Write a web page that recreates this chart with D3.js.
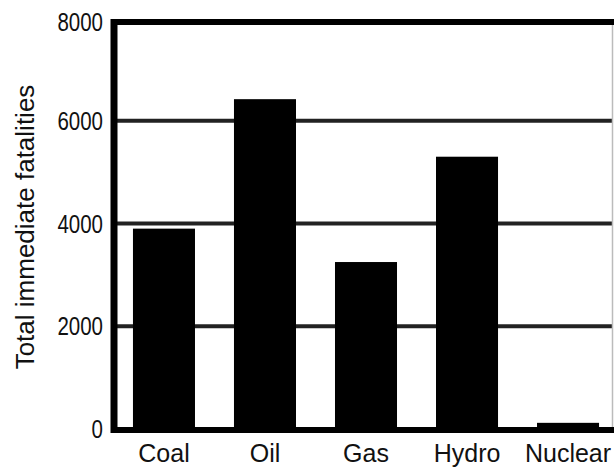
<!DOCTYPE html>
<html>
<head>
<meta charset="utf-8">
<script src="https://cdn.jsdelivr.net/npm/d3@7"></script>
<style>
  html, body { margin: 0; padding: 0; background: #fff; }
  svg { display: block; }
  text { font-family: "Liberation Sans", Arial, Helvetica, sans-serif; fill: #111; }
</style>
</head>
<body>
<svg id="chart" width="614" height="472"></svg>
<script>
const categories = ["Coal", "Oil", "Gas", "Hydro", "Nuclear"];
const fatalities = [3900, 6420, 3250, 5300, 120];
const yTicks = [0, 2000, 4000, 6000, 8000];
const yTitle = "Total immediate fatalities";

const W = 614, H = 472;
const plot = { left: 114, right: 612, top: 18, bottom: 429 };

const svg = d3.select("#chart");

const x = d3.scaleBand()
  .domain(categories)
  .range([117, 615])
  .paddingInner(0.386)
  .paddingOuter(0.158);

const y = d3.scaleLinear()
  .domain([0, 8000])
  .range([plot.bottom, plot.top]);

// gridlines (behind bars)
svg.append("g")
  .selectAll("line")
  .data(yTicks.filter(d => d > 0 && d < 8000))
  .join("line")
  .attr("x1", plot.left)
  .attr("x2", plot.right)
  .attr("y1", d => y(d))
  .attr("y2", d => y(d))
  .attr("stroke", "#222")
  .attr("stroke-width", 4);

// bars
svg.append("g")
  .selectAll("rect")
  .data(categories.map((c, i) => ({ c, v: fatalities[i] })))
  .join("rect")
  .attr("x", d => x(d.c))
  .attr("width", x.bandwidth())
  .attr("y", d => y(d.v))
  .attr("height", d => y(0) - y(d.v))
  .attr("fill", "#000");

// frame
svg.append("line") // right thin border
  .attr("x1", plot.right + 0.5).attr("x2", plot.right + 0.5)
  .attr("y1", y(8000) + 4).attr("y2", y(0))
  .attr("stroke", "#bbb").attr("stroke-width", 1.5);
svg.append("line") // top
  .attr("x1", plot.left - 3).attr("x2", W)
  .attr("y1", y(8000) + 4).attr("y2", y(8000) + 4)
  .attr("stroke", "#000").attr("stroke-width", 6);
svg.append("line") // bottom
  .attr("x1", plot.left - 3).attr("x2", W)
  .attr("y1", y(0) + 1).attr("y2", y(0) + 1)
  .attr("stroke", "#000").attr("stroke-width", 6);

// y axis
const yAxis = d3.axisLeft(y).tickValues(yTicks).tickSize(0).tickPadding(11)
  .tickFormat(d3.format("d"));
const gy = svg.append("g")
  .attr("transform", `translate(${plot.left},0)`)
  .call(yAxis);
gy.select(".domain")
  .attr("stroke", "#000")
  .attr("stroke-width", 7)
  .attr("d", `M0,${y(8000) + 1}V${y(0) + 4}`);
const sx = 0.82;
gy.selectAll(".tick text")
  .attr("font-size", 25)
  .attr("font-family", "\"Liberation Sans\", Arial, sans-serif")
  .attr("fill", "#111")
  .attr("x", -11 / sx)
  .attr("dy", "0.34em")
  .attr("transform", `scale(${sx},1)`);
gy.selectAll(".tick").filter(d => d === 8000)
  .attr("transform", `translate(0,${y(8000) + 4})`);

// x axis labels
const xAxis = d3.axisBottom(x).tickSize(0).tickPadding(15);
const gx = svg.append("g")
  .attr("transform", `translate(0,${y(0)})`)
  .call(xAxis);
gx.select(".domain").remove();
gx.selectAll(".tick text")
  .attr("font-size", 25)
  .attr("font-family", "\"Liberation Sans\", Arial, sans-serif")
  .attr("fill", "#111")
  .attr("dy", "0.71em");

// y title
svg.append("text")
  .attr("transform", `translate(34,227) rotate(-90)`)
  .attr("text-anchor", "middle")
  .attr("font-size", 26)
  .text(yTitle);
</script>
</body>
</html>
